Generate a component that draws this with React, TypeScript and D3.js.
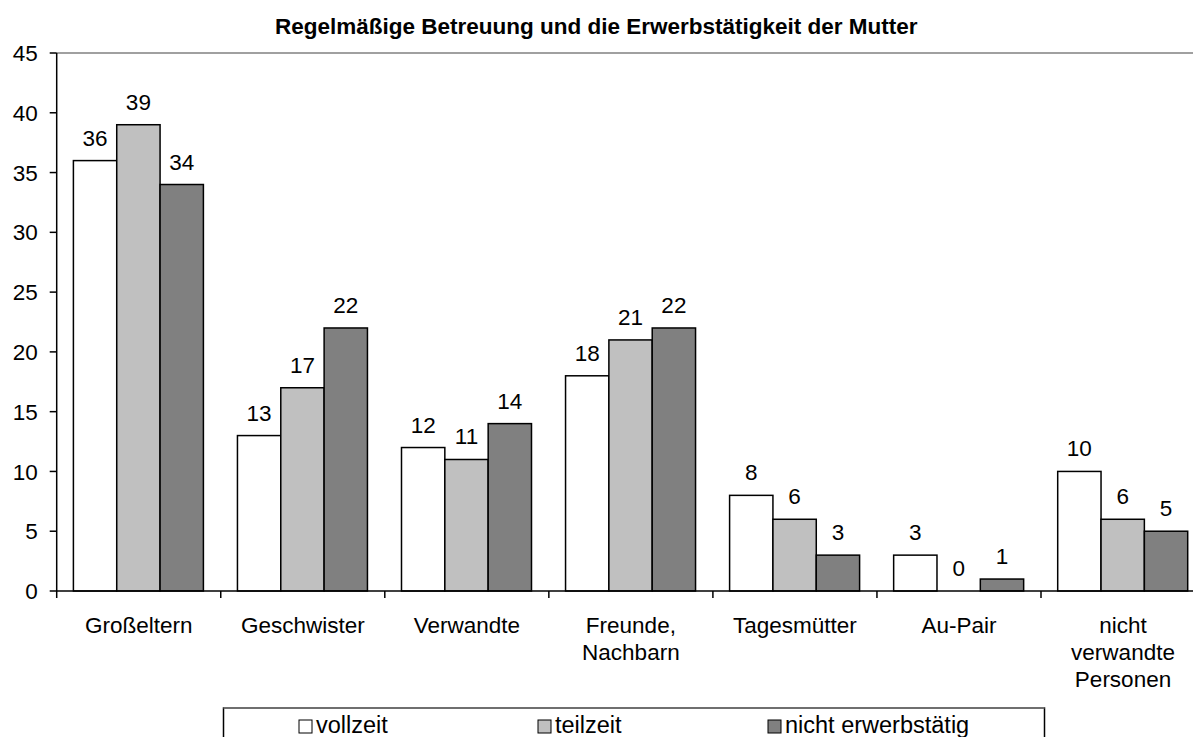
import React from "react";
import * as d3 from "d3";

const TITLE = "Regelmäßige Betreuung und die Erwerbstätigkeit der Mutter";
const categories = [
  ["Großeltern"],
  ["Geschwister"],
  ["Verwandte"],
  ["Freunde,", "Nachbarn"],
  ["Tagesmütter"],
  ["Au-Pair"],
  ["nicht", "verwandte", "Personen"],
];
const seriesNames = ["vollzeit", "teilzeit", "nicht erwerbstätig"];
const seriesColors = ["#ffffff", "#c0c0c0", "#808080"];
const vollzeit = [36, 13, 12, 18, 8, 3, 10];
const teilzeit = [39, 17, 11, 21, 6, 0, 6];
const nichtErwerbstaetig = [34, 22, 14, 22, 3, 1, 5];
const yTicks = [0, 5, 10, 15, 20, 25, 30, 35, 40, 45];

const FONT = "'Liberation Sans', Arial, sans-serif";
const FS = 22.5;

export default function App() {
  const W = 1193;
  const H = 737;
  const left = 56.7;
  const groupW = 164.05;
  const right = left + groupW * categories.length;
  const top = 53;
  const bottom = 591;

  const series = [vollzeit, teilzeit, nichtErwerbstaetig];
  const idx = categories.map((_, i) => String(i));
  const x0 = d3.scaleBand().domain(idx).range([left, right]).paddingInner(0).paddingOuter(0);
  const x1 = d3.scaleBand().domain(["0", "1", "2"]).range([16.7, 16.7 + 130]).padding(0);
  const y = d3.scaleLinear().domain([0, 45]).range([bottom, top]);

  const legendX = [299, 538, 768];

  return (
    <svg width={W} height={H} style={{ position: "absolute", left: 0, top: 0, background: "#fff" }} fontFamily={FONT}>
      <rect x={0} y={0} width={W} height={H} fill="#fff" />
      <text x={275} y={34} textAnchor="start" fontWeight="bold" fontSize={22.5}>
        {TITLE}
      </text>
      {/* plot area border (top/right gray) */}
      <line x1={left} x2={right} y1={top} y2={top} stroke="#808080" strokeWidth={1.5} />
      <line x1={right} x2={right} y1={top} y2={bottom} stroke="#808080" strokeWidth={1.5} />
      {/* bars */}
      {categories.map((_, ci) => (
        <g key={ci} transform={`translate(${x0(String(ci))},0)`}>
          {series.map((s, si) => {
            const v = s[ci];
            const bx = x1(String(si))!;
            const bw = x1.bandwidth();
            return (
              <g key={si}>
                {v > 0 && (
                  <rect x={bx} y={y(v)} width={bw} height={y(0) - y(v)} fill={seriesColors[si]} stroke="#000" strokeWidth={1.5} />
                )}
                <text x={bx + bw / 2} y={y(v) - 15} textAnchor="middle" fontSize={FS}>
                  {v}
                </text>
              </g>
            );
          })}
        </g>
      ))}
      {/* y axis */}
      <line x1={left} x2={left} y1={top} y2={bottom} stroke="#000" strokeWidth={1.5} />
      {yTicks.map((t) => (
        <g key={t}>
          <line x1={left - 7} x2={left} y1={y(t)} y2={y(t)} stroke="#000" strokeWidth={1.5} />
          <text x={left - 19} y={y(t)} dy="0.36em" textAnchor="end" fontSize={FS}>
            {t}
          </text>
        </g>
      ))}
      {/* x axis */}
      <line x1={left} x2={right} y1={bottom} y2={bottom} stroke="#000" strokeWidth={1.5} />
      {d3.range(categories.length + 1).map((i) => (
        <line key={i} x1={left + i * x0.bandwidth()} x2={left + i * x0.bandwidth()} y1={bottom} y2={bottom + 7} stroke="#000" strokeWidth={1.5} />
      ))}
      {categories.map((lines, ci) => (
        <text key={ci} x={x0(String(ci))! + x0.bandwidth() / 2} y={632.5} textAnchor="middle" fontSize={FS}>
          {lines.map((l, li) => (
            <tspan key={li} x={x0(String(ci))! + x0.bandwidth() / 2} dy={li === 0 ? 0 : 27}>
              {l}
            </tspan>
          ))}
        </text>
      ))}
      {/* legend */}
      <rect x={223.5} y={708} width={821} height={60} fill="#fff" stroke="#000" strokeWidth={1.5} />
      <line x1={223.5} x2={1044.5} y1={708} y2={708} stroke="#808080" strokeWidth={1.5} />
      {seriesNames.map((n, i) => (
        <g key={n}>
          <rect x={legendX[i]} y={720} width={13} height={13} fill={seriesColors[i]} stroke="#000" strokeWidth={1} />
          <text x={legendX[i] + 17} y={733} fontSize={23.5}>
            {n}
          </text>
        </g>
      ))}
    </svg>
  );
}
